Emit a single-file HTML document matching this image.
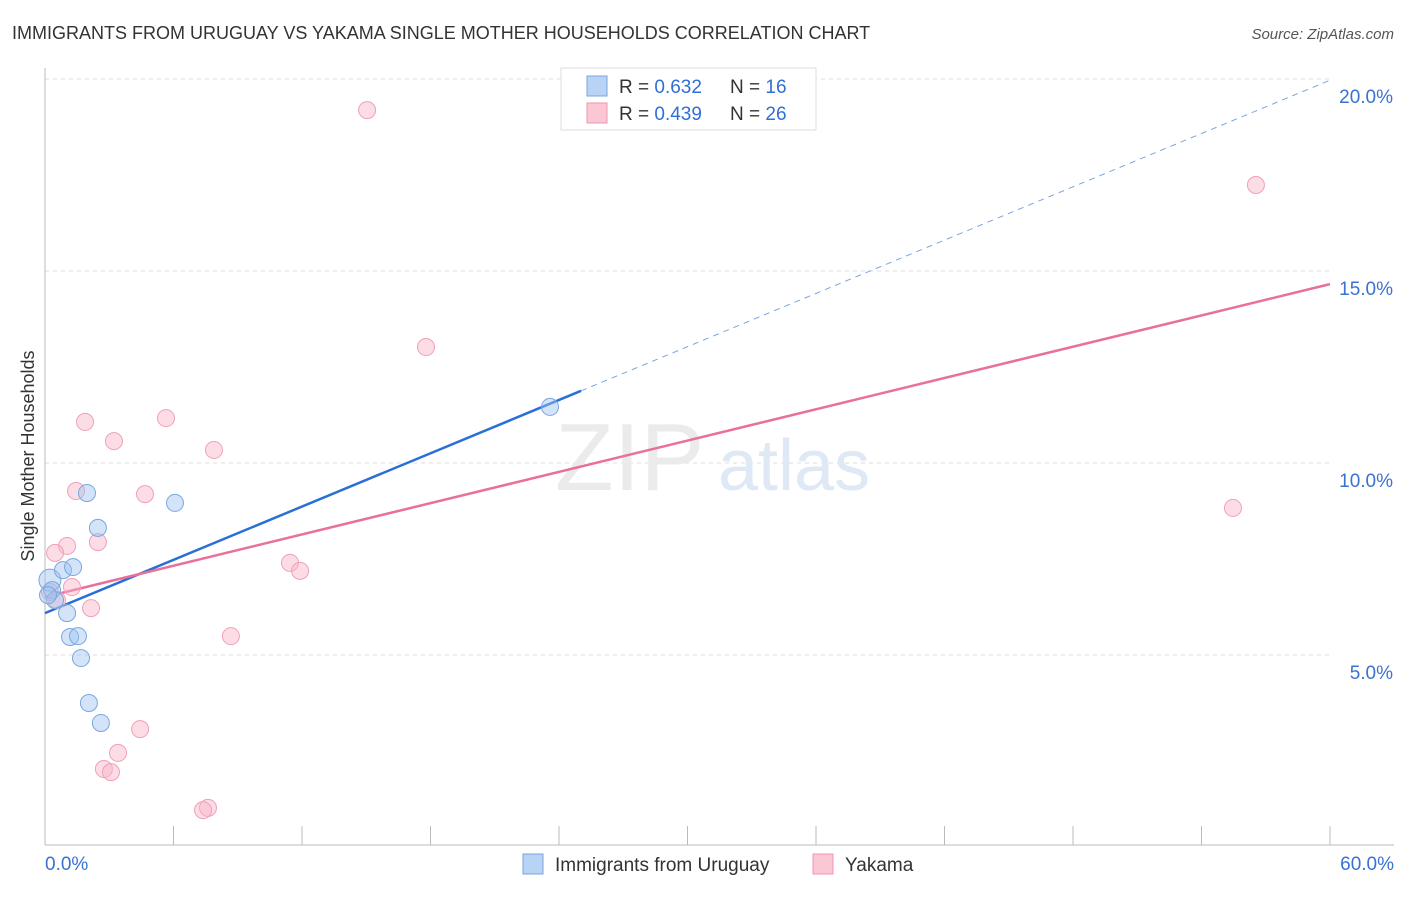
<!DOCTYPE html>
<html><head><meta charset="utf-8"><style>
body{margin:0;background:#fff;font-family:"Liberation Sans",sans-serif;}
svg text{font-family:"Liberation Sans",sans-serif;}
</style></head><body>
<svg width="1406" height="892" xmlns="http://www.w3.org/2000/svg" id="chart">
<text x="12" y="39" font-size="18" fill="#333">IMMIGRANTS FROM URUGUAY VS YAKAMA SINGLE MOTHER HOUSEHOLDS CORRELATION CHART</text>
<text x="1394" y="39" font-size="15" fill="#555" font-style="italic" text-anchor="end">Source: ZipAtlas.com</text>
<text transform="translate(34,456) rotate(-90)" font-size="18" fill="#333" text-anchor="middle">Single Mother Households</text>
<g id="grid"></g><g id="axes"></g>
<text x="555" y="490" font-size="96" fill="#ebebeb" font-family="Liberation Serif">ZIP</text>
<text x="718" y="490" font-size="72" fill="#dfe8f5">atlas</text>
<g id="lines"></g><g id="points"></g>
<g>
<rect x="561" y="68" width="255" height="62" fill="#fff" stroke="#ddd"/>
<rect x="587" y="76" width="20" height="20" fill="#b9d3f5" stroke="#7aa6e0"/>
<rect x="587" y="103" width="20" height="20" fill="#fbc7d5" stroke="#f094b0"/>
<text x="619" y="93" font-size="19" fill="#333">R = <tspan fill="#2f6fd6">0.632</tspan></text>
<text x="730" y="93" font-size="19" fill="#333">N = <tspan fill="#2f6fd6">16</tspan></text>
<text x="619" y="120" font-size="19" fill="#333">R = <tspan fill="#2f6fd6">0.439</tspan></text>
<text x="730" y="120" font-size="19" fill="#333">N = <tspan fill="#2f6fd6">26</tspan></text>
</g>
<g>
<rect x="523" y="854" width="20" height="20" fill="#b9d3f5" stroke="#7aa6e0"/>
<text x="555" y="871" font-size="19" fill="#333">Immigrants from Uruguay</text>
<rect x="813" y="854" width="20" height="20" fill="#fbc7d5" stroke="#f094b0"/>
<text x="845" y="871" font-size="19" fill="#333">Yakama</text>
</g>
</svg>
<script>
const blueX=[0.23,0.33,0.47,0.84,1.31,1.96,2.47,1.03,1.17,1.54,1.68,2.05,2.61,6.07,23.58,0.14];
const blueY=[6.95,6.69,6.43,7.21,7.29,9.22,8.31,6.09,5.47,5.49,4.92,3.75,3.23,8.96,11.46,6.56];
const pinkX=[15.04,56.54,17.79,1.87,5.65,3.22,7.89,1.45,4.67,55.47,2.47,1.03,0.47,11.44,11.91,1.26,2.15,8.68,4.44,3.41,2.75,3.08,7.61,7.38,0.56,0.23];
const pinkY=[19.19,17.24,13.02,11.07,11.17,10.57,10.34,9.27,9.19,8.83,7.94,7.84,7.66,7.40,7.19,6.77,6.22,5.49,3.07,2.45,2.03,1.95,1.02,0.96,6.43,6.64];
const yTicks=[5,10,15,20];
const xTickLabels=["0.0%","60.0%"];
const blueFit=[6.09,0.2313,25.03];
const pinkFit=[6.51,0.1358];
const NS="http://www.w3.org/2000/svg";
const sx=v=>45+v/60*1285, sy=v=>847-v/20*768;
function mk(t,a,p){const e=document.createElementNS(NS,t);for(const k in a)e.setAttribute(k,a[k]);document.getElementById(p).appendChild(e);return e;}
yTicks.forEach(t=>{
 const l=mk('line',{x1:45,x2:1330,y1:sy(t),y2:sy(t),stroke:'#ddd','stroke-dasharray':'4,4'},'grid');
 
 
 const tx=mk('text',{x:1393,y:sy(t)+24,'font-size':19,fill:'#3a72d0','text-anchor':'end'},'grid');tx.textContent=t.toFixed(1)+'%';
 
 
});
mk('line',{x1:45,x2:45,y1:68,y2:845,stroke:'#bbb'},'axes');
mk('line',{x1:45,x2:1394,y1:845,y2:845,stroke:'#bbb'},'axes');
for(let i=0;i<=10;i++){mk('line',{x1:sx(i*6),x2:sx(i*6),y1:826,y2:845,stroke:'#bbb'},'axes');}
let t0=mk('text',{x:45,y:870,'font-size':19,fill:'#3a72d0'},'axes');t0.textContent=xTickLabels[0];


let t1=mk('text',{x:1394,y:870,'font-size':19,fill:'#3a72d0','text-anchor':'end'},'axes');t1.textContent=xTickLabels[1];


const bl=mk('line',{x1:sx(0),y1:sy(blueFit[0]),x2:sx(blueFit[2]),y2:sy(blueFit[0]+blueFit[1]*blueFit[2]),stroke:'#2a6fd6','stroke-width':2.5},'lines');


const bd=mk('line',{x1:sx(blueFit[2]),y1:sy(blueFit[0]+blueFit[1]*blueFit[2]),x2:sx(60),y2:sy(blueFit[0]+blueFit[1]*60),stroke:'#7aa6e0','stroke-width':1,'stroke-dasharray':'6,5'},'lines');


const pl=mk('line',{x1:sx(0),y1:sy(pinkFit[0]),x2:sx(60),y2:sy(pinkFit[0]+pinkFit[1]*60),stroke:'#e8709a','stroke-width':2.5},'lines');


pinkX.forEach((x,i)=>{const c=mk('circle',{cx:sx(x),cy:sy(pinkY[i]),r:8.5,fill:'rgba(248,180,200,0.45)',stroke:'#f0a0b8'},'points');
 
 });
blueX.forEach((x,i)=>{const c=mk('circle',{cx:sx(x),cy:sy(blueY[i]),r:i==0?11:8.5,fill:'rgba(160,195,240,0.45)',stroke:'#7aa6e0'},'points');
 
 });
</script>
</body></html>
